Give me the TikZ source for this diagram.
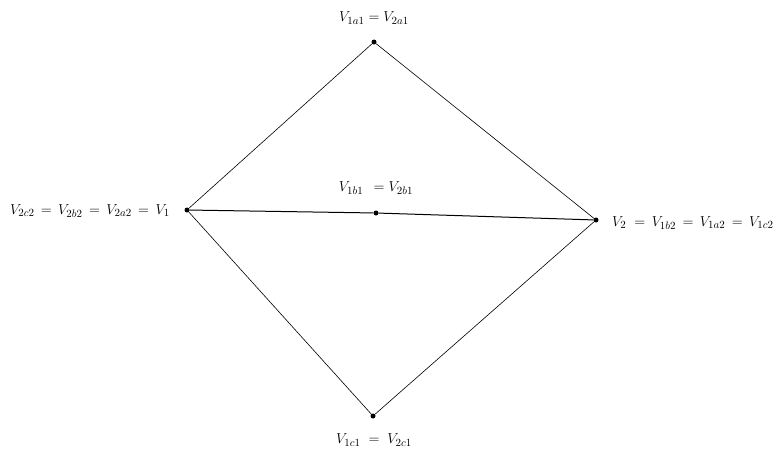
\documentclass[tikz,border=0pt]{standalone}
\begin{document}
\begin{tikzpicture}[x=1pt,y=-1pt,
  vtx/.style={circle,fill=black,inner sep=0pt,minimum size=5pt},
  lbl/.style={inner sep=0pt,font=\fontsize{15.7}{18}\selectfont},
  edge/.style={line width=0.6pt}]
\useasboundingbox (0,0) rectangle (776,453);
\node[vtx] (v1) at (187,210) {};
\node[vtx] (v2) at (596,220) {};
\node[vtx] (top) at (374,42) {};
\node[vtx] (mid) at (376,213) {};
\node[vtx] (bot) at (373,416) {};
\draw[edge] (v1) -- (top) -- (v2) -- (bot) -- (v1);
\draw[line width=1pt] (v1) -- (mid) -- (v2);
\node[lbl,anchor=east] (l1) at (170,211) {$V_{2c2}\,=\,V_{2b2}\,=\,V_{2a2}\,=\,V_1$};
\node[lbl,anchor=west] (l2) at (612,223) {$V_2\;=\,V_{1b2}\,=\,V_{1a2}\,=\,V_{1c2}$};
\node[lbl] (lt) at (374,18) {$V_{1a1}=V_{2a1}$};
\node[lbl] (lm) at (376,188) {$V_{1b1}\;\,=V_{2b1}$};
\node[lbl] (lb) at (374,440) {$V_{1c1}\;=\;V_{2c1}$};
\end{tikzpicture}
\end{document}
